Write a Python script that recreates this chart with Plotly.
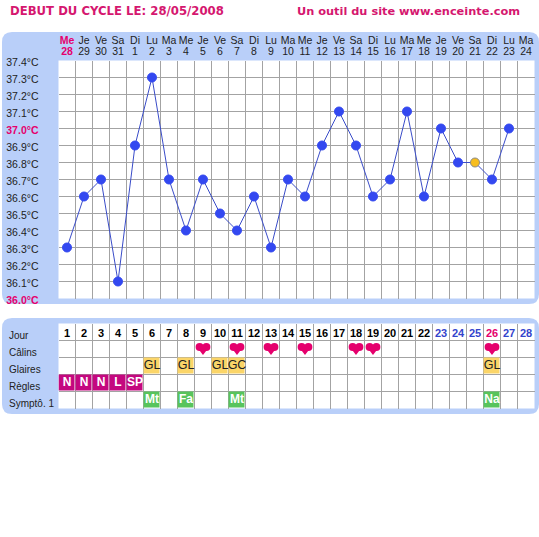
import plotly.graph_objects as go

W = 539
H = 537

# courbe de temperature
jours_sem = ["Me", "Je", "Ve", "Sa", "Di", "Lu", "Ma", "Me", "Je", "Ve", "Sa", "Di", "Lu", "Ma",
             "Me", "Je", "Ve", "Sa", "Di", "Lu", "Ma", "Me", "Je", "Ve", "Sa", "Di", "Lu", "Ma"]
dates = [28, 29, 30, 31, 1, 2, 3, 4, 5, 6, 7, 8, 9, 10,
         11, 12, 13, 14, 15, 16, 17, 18, 19, 20, 21, 22, 23, 24]
temp = [36.3, 36.6, 36.7, 36.1, 36.9, 37.3, 36.7, 36.4, 36.7, 36.5, 36.4, 36.6, 36.3, 36.7,
        36.6, 36.9, 37.1, 36.9, 36.6, 36.7, 37.1, 36.6, 37.0, 36.8, 36.8, 36.7, 37.0, None]
temp_ticks = [36.0, 36.1, 36.2, 36.3, 36.4, 36.5, 36.6, 36.7, 36.8, 36.9, 37.0, 37.1, 37.2, 37.3, 37.4]

# tableau du bas
jour = list(range(1, 29))
calins = [9, 11, 13, 15, 18, 19, 26]
glaires = ["", "", "", "", "", "GL", "", "GL", "", "GL", "GC", "", "", "", "", "", "", "", "", "", "", "", "", "", "", "GL", "", ""]
regles = ["N", "N", "N", "L", "SP"] + [""] * 23
sympto = ["", "", "", "", "", "Mt", "", "Fa", "", "", "Mt", "", "", "", "", "", "", "", "", "", "", "", "", "", "", "Na", "", ""]
lignes = ["Jour", "Câlins", "Glaires", "Règles", "Symptô. 1"]

ROSE = "#e5006d"
TITRE = "#d5176f"
BLEU = "#3348f0"
PANEL = "#b9cff9"
GRILLE = "#a3a3a3"
SANS = "Liberation Sans"
VERD = "DejaVu Sans"


def panneau(x0, y0, x1, y1, r=10):
    # rectangle arrondi, en pixels de la page
    px = lambda v: v / W
    py = lambda v: 1 - v / H
    return ("M %f %f L %f %f Q %f %f %f %f L %f %f Q %f %f %f %f L %f %f Q %f %f %f %f L %f %f Q %f %f %f %f Z" % (
        px(x0 + r), py(y0), px(x1 - r), py(y0), px(x1), py(y0), px(x1), py(y0 + r),
        px(x1), py(y1 - r), px(x1), py(y1), px(x1 - r), py(y1),
        px(x0 + r), py(y1), px(x0), py(y1), px(x0), py(y1 - r),
        px(x0), py(y0 + r), px(x0), py(y0), px(x0 + r), py(y0)))


def fond_blanc(x0, y0, x1, y1):
    return dict(type="rect", xref="paper", yref="paper", x0=x0 / W, x1=x1 / W, y0=1 - y1 / H, y1=1 - y0 / H,
                fillcolor="white", line_width=0, layer="below")


fig = go.Figure()

x = list(range(28))
couleurs = [BLEU] * 28
couleurs[24] = "#f7bd1e"
bords = [BLEU] * 28
bords[24] = "#8a8a8a"
fig.add_trace(go.Scatter(x=x, y=temp, mode="lines+markers", xaxis="x", yaxis="y",
                         line=dict(color="#3a4cc8", width=1),
                         marker=dict(size=9, color=couleurs, line=dict(color=bords, width=1)),
                         connectgaps=False, showlegend=False))
# trace vide pour garder le 2e axe des jours
fig.add_trace(go.Scatter(x=x, y=[None] * 28, xaxis="x3", yaxis="y", showlegend=False, hoverinfo="skip"))

# cases colorees du tableau
z = []
for ligne, code in [([""] * 28, 0), ([""] * 28, 0), (glaires, 1), (regles, 2), (sympto, 3)]:
    z.append([code if v else None for v in ligne])
fig.add_trace(go.Heatmap(x=x, y=list(range(5)), z=z, xaxis="x2", yaxis="y2", xgap=1, ygap=1,
                         zmin=1, zmax=3, showscale=False, hoverinfo="skip",
                         colorscale=[[0, "#fbd568"], [0.5, "#c4087f"], [1, "#58c45c"]]))

couleur_jour = ["#000000"] * 22 + ["#3344cc"] * 3 + [ROSE] + ["#3344cc"] * 2
fig.add_trace(go.Scatter(x=x, y=[0.12] * 28, mode="text", text=[str(j) for j in jour], xaxis="x2", yaxis="y2",
                         textfont=dict(family=SANS, size=11, color=couleur_jour, weight="bold"),
                         showlegend=False, hoverinfo="skip"))

# coeurs: deux ronds et un triangle
x_coeur = [j - 1 for j in calins]
for dx, dy, symbole, taille in [(-0.2, -0.12, "circle", 8), (0.2, -0.12, "circle", 8), (0, 0, "triangle-down", 12)]:
    fig.add_trace(go.Scatter(x=[v + dx for v in x_coeur], y=[1 + dy] * len(calins), mode="markers",
                             marker=dict(symbol=symbole, size=taille, color=ROSE, line_width=0),
                             xaxis="x2", yaxis="y2", showlegend=False, hoverinfo="skip"))

fig.add_trace(go.Scatter(x=x, y=[2] * 28, mode="text", text=glaires, xaxis="x2", yaxis="y2",
                         textfont=dict(family=SANS, size=12.5, color="#222222"),
                         showlegend=False, hoverinfo="skip"))
fig.add_trace(go.Scatter(x=x, y=[3] * 28, mode="text", text=regles, xaxis="x2", yaxis="y2",
                         textfont=dict(family=SANS, size=12, color="white", weight="bold"),
                         showlegend=False, hoverinfo="skip"))
fig.add_trace(go.Scatter(x=x, y=[4] * 28, mode="text", text=sympto, xaxis="x2", yaxis="y2",
                         textfont=dict(family=SANS, size=12, color="white", weight="bold"),
                         showlegend=False, hoverinfo="skip"))

labels_sem = ['<b><span style="color:%s">%s</span></b>' % (ROSE, jours_sem[0])] + jours_sem[1:]
labels_date = ['<b><span style="color:%s">%d</span></b>' % (ROSE, dates[0])] + [str(d) for d in dates[1:]]

labels_y = []
for t in temp_ticks:
    if t == 37.0 or t == 36.0:
        labels_y.append('<b><span style="color:%s">%.1f°C</span></b>' % (ROSE, t))
    else:
        labels_y.append("%.1f°C" % t)

bords_x = [i - 0.5 for i in range(29)]
bords_y = [i - 0.5 for i in range(6)]
police_axe = dict(family=SANS, size=10.5, color="#222222")

fig.update_layout(
    width=W, height=H, margin=dict(l=0, r=0, t=0, b=0, autoexpand=False),
    paper_bgcolor="white", plot_bgcolor="white", showlegend=False,
    xaxis=dict(domain=[58.5 / W, 534.5 / W], range=[-0.5, 27.5], anchor="y", side="top",
               tickmode="array", tickvals=x, ticktext=labels_date, ticks="", showgrid=False, zeroline=False,
               tickangle=0, tickfont=police_axe, ticklabelstandoff=2,
               minor=dict(tickmode="array", tickvals=bords_x, showgrid=True, gridcolor=GRILLE, gridwidth=1, ticks="")),
    xaxis3=dict(range=[-0.5, 27.5], anchor="y", overlaying="x", side="top",
                tickmode="array", tickvals=x, ticktext=labels_sem, ticks="", showgrid=False, zeroline=False,
                tickangle=0, tickfont=police_axe, ticklabelstandoff=13),
    yaxis=dict(domain=[1 - 298.5 / H, 1 - 60.5 / H], range=[36.0, 37.4], anchor="x",
               tickmode="array", tickvals=temp_ticks, ticktext=labels_y, ticks="", showgrid=True,
               gridcolor=GRILLE, gridwidth=1, zeroline=False, ticklabelstandoff=19, ticklabelshift=2,
               tickfont=police_axe),
    xaxis2=dict(domain=[58.5 / W, 534.5 / W], range=[-0.5, 27.5], anchor="y2", showticklabels=False,
                tickmode="array", tickvals=bords_x, ticks="", showgrid=True, gridcolor=GRILLE, gridwidth=1, zeroline=False),
    yaxis2=dict(domain=[1 - 408.5 / H, 1 - 323.5 / H], range=[4.5, -0.5], anchor="x2", showticklabels=False,
                tickmode="array", tickvals=bords_y, ticks="", showgrid=True, gridcolor=GRILLE, gridwidth=1, zeroline=False),
    shapes=[
        dict(type="path", xref="paper", yref="paper", path=panneau(2, 32, 539, 304), fillcolor=PANEL, line_width=0, layer="below"),
        dict(type="path", xref="paper", yref="paper", path=panneau(2, 318, 539, 414), fillcolor=PANEL, line_width=0, layer="below"),
        fond_blanc(58.5, 60.5, 534.5, 298.5),
        fond_blanc(58.5, 323.5, 534.5, 408.5),
    ],
)

fig.add_annotation(text="<b>DEBUT DU CYCLE LE: 28/05/2008</b>", xref="paper", yref="paper", x=8 / W, y=1 - 11 / H,
                   xanchor="left", yanchor="middle", showarrow=False,
                   font=dict(family=VERD, size=11.7, color=TITRE))
fig.add_annotation(text="<b>Un outil du site www.enceinte.com</b>", xref="paper", yref="paper", x=295 / W, y=1 - 11 / H,
                   xanchor="left", yanchor="middle", showarrow=False,
                   font=dict(family=VERD, size=11.35, color=TITRE))
for i, nom in enumerate(lignes):
    fig.add_annotation(text=nom, xref="paper", yref="y2", x=7 / W, y=i + 0.2, xanchor="left", yanchor="middle",
                       showarrow=False, font=dict(family=SANS, size=10, color="#222222"))

fig.write_html("out.html", config=dict(displayModeBar=False),
               post_script="document.body.style.margin='0';")
